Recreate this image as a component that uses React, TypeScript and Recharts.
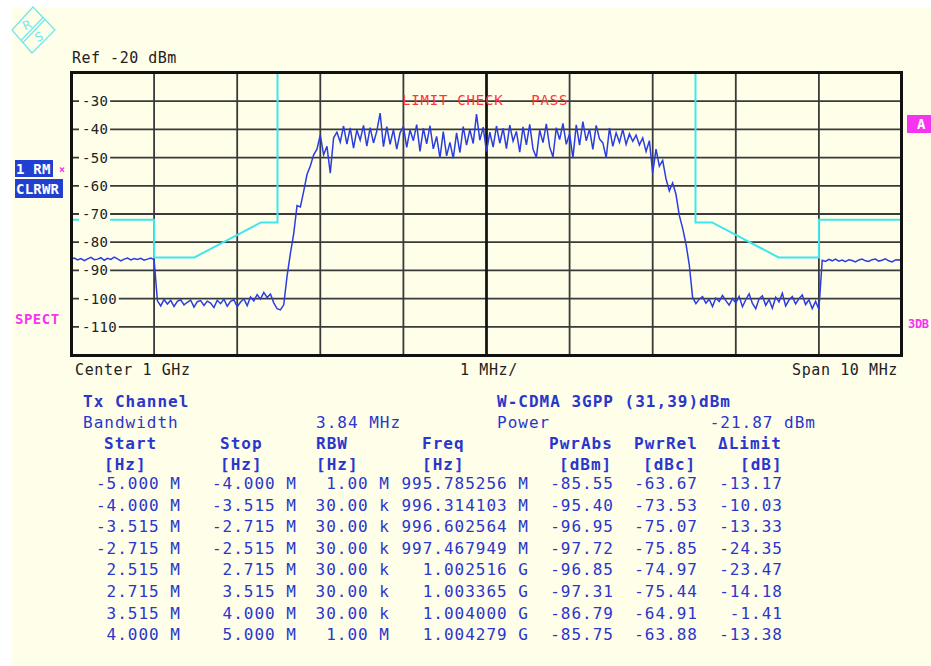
import React from 'react';
import { LineChart, Line, XAxis, YAxis, CartesianGrid, ReferenceLine } from 'recharts';

const PAGE_W = 931;
const PAGE_H = 666;
const CREAM = '#fefee9';
const MONO = '"DejaVu Sans Mono", "Liberation Mono", monospace';
const INK = '#222222';
const TABLE_BLUE = '#2a36cc';
const MAGENTA = '#f534ef';

// screen grid: 10 dB/div from Ref -20 dBm, 1 MHz/div around 1 GHz
const gridDbm = [-30, -40, -50, -60, -70, -80, -90, -100, -110];
const gridMHz = [-4, -3, -2, -1, 0, 1, 2, 3, 4];

// trace 1 (RM, CLRWR), one value per 0.04 MHz from -5 MHz
const traceStartMHz = -5;
const traceStepMHz = 0.04;
const traceDbm = [
  -86.0, -85.6, -86.3, -85.8, -86.5, -85.9, -85.4, -86.2, -86.0, -85.5,
  -86.4, -85.7, -86.1, -85.3, -85.9, -86.6, -86.0, -85.6, -86.3, -85.8,
  -86.1, -85.7, -86.4, -86.0, -85.6, -86.2, -100.8, -102.6, -100.3, -101.9,
  -100.6, -102.8, -101.0, -100.4, -102.2, -101.3, -100.5, -103.0, -101.1, -100.7,
  -102.4, -100.9, -101.6, -103.2, -100.6, -101.8, -100.2, -102.7, -101.0, -100.4,
  -102.9, -101.2, -100.1, -102.5, -99.4, -100.8, -98.6, -100.2, -97.8, -99.6,
  -98.4, -101.5, -103.6, -104.0, -102.2, -92.0, -84.0, -77.0, -67.0, -67.5,
  -62.0, -56.0, -53.0, -49.0, -47.0, -42.0, -49.0, -46.0, -55.5, -43.0,
  -41.0, -44.5, -38.8, -45.2, -39.5, -46.6, -40.2, -43.8, -38.6, -45.9,
  -39.4, -44.8, -40.6, -34.2, -46.1, -39.0, -45.3, -40.1, -47.0, -41.2,
  -38.9, -46.4, -40.2, -44.0, -38.3, -47.8, -39.6, -45.1, -38.7, -46.9,
  -42.5, -50.1, -40.8, -49.4, -44.6, -50.3, -41.2, -48.2, -39.0, -45.6,
  -40.1, -45.0, -34.6, -43.8, -39.2, -47.9, -41.0, -46.3, -38.8, -44.9,
  -39.6, -46.8, -38.5, -44.2, -40.7, -48.1, -39.1, -45.5, -38.2, -47.0,
  -50.0, -40.3, -44.7, -38.0, -46.2, -49.8, -39.4, -43.6, -37.9, -45.3,
  -41.5, -50.2, -38.4, -45.6, -37.2, -44.0, -39.9, -47.1, -38.6, -43.4,
  -44.8, -50.0, -39.5, -46.0, -41.2, -44.6, -40.0, -45.3, -41.6, -44.2,
  -42.0, -45.5, -43.0, -47.8, -44.0, -55.5, -47.0, -53.0, -51.0, -57.5,
  -61.8, -59.0, -63.0, -70.5, -75.0, -80.5, -88.0, -99.5, -101.8, -100.2,
  -99.3, -101.6, -100.2, -102.8, -99.8, -101.0, -98.9, -100.7, -102.3, -100.0,
  -101.5, -99.2, -102.9, -100.4, -98.3, -101.7, -103.6, -100.1, -99.0, -102.4,
  -100.3, -103.4, -99.5, -101.2, -98.1, -102.6, -100.5, -99.3, -101.9, -100.0,
  -98.7, -102.1, -100.4, -103.5, -101.0, -103.8, -86.4, -86.8, -86.1, -86.6,
  -86.0, -86.7, -86.3, -86.9, -86.2, -86.5, -87.0, -86.3, -86.0, -86.6,
  -86.8, -86.2, -86.0, -86.7, -86.4, -85.9, -86.6, -87.0, -86.3, -86.2,
  -86.5,
];

// limit line, split at the channel (goes off the top of the screen)
const limitLowerMHz = [-5, -4, -4, -3.515, -2.715, -2.515, -2.515];
const limitLowerDbm = [-72, -72, -85.4, -85.4, -73, -73, -20];
const limitUpperMHz = [2.515, 2.515, 2.715, 3.515, 4, 4, 5];
const limitUpperDbm = [-20, -73, -73, -85.4, -85.4, -72, -72];

// ACP table
const tableStart = ['-5.000 M', '-4.000 M', '-3.515 M', '-2.715 M', '2.515 M', '2.715 M', '3.515 M', '4.000 M'];
const tableStop = ['-4.000 M', '-3.515 M', '-2.715 M', '-2.515 M', '2.715 M', '3.515 M', '4.000 M', '5.000 M'];
const tableRbw = ['1.00 M', '30.00 k', '30.00 k', '30.00 k', '30.00 k', '30.00 k', '30.00 k', '1.00 M'];
const tableFreq = ['995.785256 M', '996.314103 M', '996.602564 M', '997.467949 M', '1.002516 G', '1.003365 G', '1.004000 G', '1.004279 G'];
const tablePwrAbs = ['-85.55', '-95.40', '-96.95', '-97.72', '-96.85', '-97.31', '-86.79', '-85.75'];
const tablePwrRel = ['-63.67', '-73.53', '-75.07', '-75.85', '-74.97', '-75.44', '-64.91', '-63.88'];
const tableDeltaLimit = ['-13.17', '-10.03', '-13.33', '-24.35', '-23.47', '-14.18', '-1.41', '-13.38'];

const traceData = traceDbm.map((dbm, i) => ({ f: traceStartMHz + i * traceStepMHz, dbm }));
const limitLower = limitLowerMHz.map((f, i) => ({ f, dbm: limitLowerDbm[i] }));
const limitUpper = limitUpperMHz.map((f, i) => ({ f, dbm: limitUpperDbm[i] }));

type TextProps = {
  x: number;
  y: number;
  text: string;
  color?: string;
  bold?: boolean;
  size?: number;
  spacing?: number;
  align?: 'left' | 'right';
};

function T({ x, y, text, color = INK, bold = false, size = 16, spacing = 1, align = 'left' }: TextProps) {
  const style: React.CSSProperties = {
    position: 'absolute',
    top: y - size / 2,
    lineHeight: `${size}px`,
    fontSize: size,
    fontFamily: MONO,
    fontWeight: bold ? 700 : 400,
    color,
    letterSpacing: spacing,
    whiteSpace: 'pre',
  };
  if (align === 'right') style.right = PAGE_W - x;
  else style.left = x;
  return <span style={style}>{text}</span>;
}

// level labels sit inside the screen, cutting the grid line
function DbTick(props: any) {
  const { y, payload } = props;
  const label = String(payload.value);
  return (
    <g>
      <rect x={79} y={y - 7} width={label.length * 8.7 + 5} height={14} fill={CREAM} />
      <text x={82} y={y} dy="0.36em" fontFamily={MONO} fontSize={14} letterSpacing={0.3} fill={INK}>
        {label}
      </text>
    </g>
  );
}

function Logo() {
  return (
    <svg width={70} height={60} style={{ position: 'absolute', left: 0, top: 0 }}>
      <g stroke="#6fe6ee" fill="none" strokeWidth={1.2}>
        <polygon points="33,7 55,30 32,53 12,30" />
        <line x1={45} y1={19.5} x2={23} y2={42.5} />
        <line x1={43} y1={17.5} x2={21} y2={40.5} />
      </g>
      <text x={27} y={29} fontSize={12} fontFamily="DejaVu Sans" fill="#6fe6ee" textAnchor="middle" transform="rotate(-25 27 25)">R</text>
      <text x={39} y={41} fontSize={12} fontFamily="DejaVu Sans" fill="#6fe6ee" textAnchor="middle" transform="rotate(-25 39 37)">S</text>
    </svg>
  );
}

const tableCols = [
  { right: 181, head: 'Start', unit: '[Hz]', headX: 104, unitX: 104, cells: tableStart },
  { right: 297, head: 'Stop', unit: '[Hz]', headX: 220, unitX: 220, cells: tableStop },
  { right: 390, head: 'RBW', unit: '[Hz]', headX: 316, unitX: 316, cells: tableRbw },
  { right: 529, head: 'Freq', unit: '[Hz]', headX: 422, unitX: 422, cells: tableFreq },
  { right: 614, head: 'PwrAbs', unit: '[dBm]', headX: 549, unitX: 559, cells: tablePwrAbs },
  { right: 698, head: 'PwrRel', unit: '[dBc]', headX: 634, unitX: 643, cells: tablePwrRel },
  { right: 783, head: '\u0394Limit', unit: '[dB]', headX: 718, unitX: 740, cells: tableDeltaLimit },
];

export default function App() {
  return (
    <div style={{ position: 'absolute', left: 0, top: 0, width: PAGE_W, height: PAGE_H, overflow: 'hidden', background: '#ffffff' }}>
      <div style={{ position: 'absolute', left: 12, top: 8, right: 0, bottom: 0, background: CREAM }} />
      <Logo />

      <div style={{ position: 'absolute', left: 0, top: 0 }}>
        <LineChart width={PAGE_W} height={370} margin={{ top: 73, right: 29, bottom: 15, left: 71 }}>
          <CartesianGrid horizontalValues={gridDbm} verticalValues={gridMHz} stroke="#3a3a3a" strokeWidth={1.8} />
          <XAxis type="number" dataKey="f" domain={[-5, 5]} ticks={gridMHz} hide allowDataOverflow />
          <YAxis
            type="number"
            domain={[-120, -20]}
            ticks={gridDbm}
            interval={0}
            mirror
            axisLine={false}
            tickLine={false}
            tick={DbTick}
            allowDataOverflow
          />
          <ReferenceLine x={0} stroke="#111111" strokeWidth={2.6} />
          <Line data={limitLower} dataKey="dbm" stroke="#3fe6ee" strokeWidth={2} dot={false} isAnimationActive={false} />
          <Line data={limitUpper} dataKey="dbm" stroke="#3fe6ee" strokeWidth={2} dot={false} isAnimationActive={false} />
          <Line data={traceData} dataKey="dbm" stroke="#2b3de0" strokeWidth={1.5} dot={false} isAnimationActive={false} />
        </LineChart>
      </div>

      {/* screen frame */}
      <div style={{ position: 'absolute', left: 70, top: 71, width: 833, height: 286, border: '3px solid #111', boxSizing: 'border-box' }} />

      <T x={72} y={58} text="Ref -20 dBm" size={15} spacing={0.5} />
      <T x={402} y={100} text="LIMIT CHECK   PASS" color="#ff3535" size={14} spacing={0.8} />

      {/* trace info on the left, screen info on the right */}
      <div style={{ position: 'absolute', left: 15, top: 160, width: 38, height: 17, background: '#2140d2' }} />
      <T x={16} y={168.5} text="1 RM" color="#ffffff" bold size={14} spacing={0.2} />
      <T x={59} y={170} text={'\u00d7'} color={MAGENTA} bold size={10} spacing={0} />
      <div style={{ position: 'absolute', left: 15, top: 179, width: 48, height: 19, background: '#2140d2' }} />
      <T x={16} y={188.5} text="CLRWR" color="#ffffff" bold size={14} spacing={0.2} />
      <T x={15} y={319} text="SPECT" color={MAGENTA} bold size={14} spacing={0.5} />
      <div style={{ position: 'absolute', left: 907, top: 115, width: 40, height: 18, background: MAGENTA }} />
      <T x={917} y={124} text="A" color="#ffffff" bold size={14} spacing={0} />
      <T x={908} y={323.5} text="3DB" color={MAGENTA} bold size={12} spacing={-0.3} />

      <T x={75} y={370} text="Center 1 GHz" size={15} spacing={0.6} />
      <T x={460} y={370} text="1 MHz/" size={15} spacing={0.6} />
      <T x={898} y={370} text="Span 10 MHz" size={15} spacing={0.6} align="right" />

      <T x={83} y={402} text="Tx Channel" color={TABLE_BLUE} bold />
      <T x={497} y={402} text="W-CDMA 3GPP (31,39)dBm" color={TABLE_BLUE} bold />
      <T x={83} y={423} text="Bandwidth" color={TABLE_BLUE} />
      <T x={316} y={423} text="3.84 MHz" color={TABLE_BLUE} />
      <T x={497} y={423} text="Power" color={TABLE_BLUE} />
      <T x={816} y={423} text="-21.87 dBm" color={TABLE_BLUE} align="right" />

      {tableCols.map((c) => (
        <React.Fragment key={c.head}>
          <T x={c.headX} y={444} text={c.head} color={TABLE_BLUE} bold />
          <T x={c.unitX} y={465} text={c.unit} color={TABLE_BLUE} bold />
          {c.cells.map((cell, r) => (
            <T key={r} x={c.right} y={484 + r * 21.6} text={cell} color={TABLE_BLUE} align="right" />
          ))}
        </React.Fragment>
      ))}
    </div>
  );
}
